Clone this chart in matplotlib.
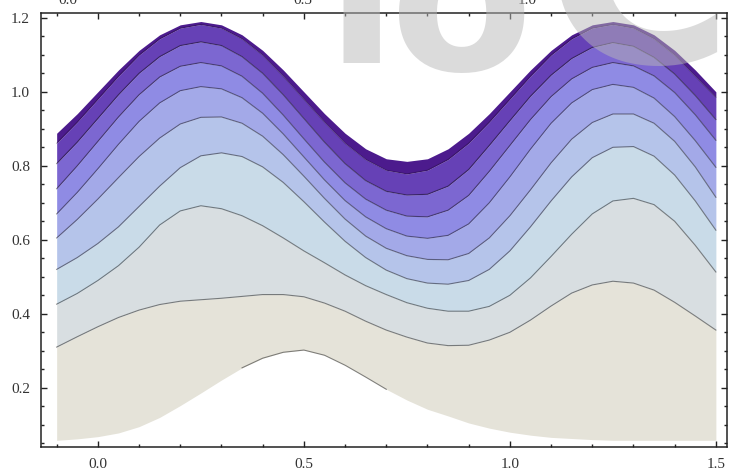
import numpy as np
import matplotlib.pyplot as plt
from matplotlib.ticker import MultipleLocator

# sample positions along x
xs = np.linspace(-0.1, 1.5, 33)

# region boundaries and contour lines, bottom to top
bottom_edge = [0.058, 0.062, 0.068, 0.078, 0.095, 0.120, 0.152, 0.186, 0.221, 0.254, 0.280,
               0.296, 0.302, 0.288, 0.261, 0.229, 0.196, 0.167, 0.142, 0.124, 0.105, 0.091,
               0.080, 0.072, 0.066, 0.063, 0.060, 0.058, 0.058, 0.058, 0.058, 0.058, 0.058]
level1 = [0.310, 0.338, 0.365, 0.390, 0.410, 0.425, 0.434, 0.438, 0.442, 0.447, 0.452,
          0.452, 0.446, 0.429, 0.407, 0.380, 0.356, 0.337, 0.321, 0.314, 0.315, 0.329,
          0.350, 0.383, 0.421, 0.456, 0.478, 0.488, 0.483, 0.464, 0.431, 0.394, 0.356]
level2 = [0.426, 0.455, 0.490, 0.530, 0.580, 0.640, 0.678, 0.692, 0.684, 0.665, 0.638,
          0.605, 0.570, 0.538, 0.505, 0.476, 0.452, 0.430, 0.415, 0.407, 0.407, 0.420,
          0.450, 0.497, 0.555, 0.615, 0.670, 0.705, 0.712, 0.695, 0.650, 0.585, 0.513]
level3 = [0.520, 0.552, 0.590, 0.635, 0.690, 0.745, 0.795, 0.827, 0.835, 0.825, 0.797,
          0.755, 0.703, 0.648, 0.596, 0.552, 0.518, 0.495, 0.483, 0.480, 0.490, 0.520,
          0.570, 0.635, 0.705, 0.770, 0.822, 0.850, 0.852, 0.826, 0.775, 0.705, 0.626]
level4 = [0.605, 0.655, 0.710, 0.768, 0.825, 0.875, 0.913, 0.931, 0.932, 0.915, 0.880,
          0.830, 0.772, 0.712, 0.656, 0.610, 0.577, 0.557, 0.547, 0.546, 0.563, 0.605,
          0.665, 0.735, 0.808, 0.872, 0.917, 0.940, 0.940, 0.915, 0.866, 0.797, 0.715]
level5 = [0.670, 0.728, 0.792, 0.858, 0.920, 0.970, 1.003, 1.014, 1.008, 0.984, 0.942,
          0.886, 0.824, 0.762, 0.706, 0.662, 0.630, 0.610, 0.604, 0.612, 0.643, 0.700,
          0.770, 0.845, 0.915, 0.970, 1.006, 1.020, 1.012, 0.983, 0.933, 0.868, 0.796]
level6 = [0.738, 0.800, 0.866, 0.932, 0.992, 1.040, 1.069, 1.079, 1.070, 1.042, 0.996,
          0.937, 0.873, 0.810, 0.754, 0.710, 0.680, 0.664, 0.662, 0.680, 0.720, 0.785,
          0.855, 0.925, 0.987, 1.035, 1.066, 1.079, 1.070, 1.043, 0.998, 0.938, 0.869]
level7 = [0.806, 0.864, 0.928, 0.992, 1.050, 1.095, 1.125, 1.135, 1.125, 1.095, 1.050,
          0.992, 0.928, 0.864, 0.806, 0.760, 0.731, 0.721, 0.723, 0.745, 0.790, 0.855,
          0.922, 0.988, 1.045, 1.090, 1.120, 1.133, 1.123, 1.093, 1.048, 0.990, 0.925]
dark_edge = [0.861, 0.918, 0.980, 1.042, 1.099, 1.143, 1.172, 1.182, 1.172, 1.143, 1.099,
             1.042, 0.980, 0.918, 0.861, 0.817, 0.788, 0.778, 0.788, 0.817, 0.861, 0.918,
             0.980, 1.042, 1.099, 1.143, 1.172, 1.182, 1.172, 1.143, 1.099, 1.042, 0.985]
top_edge = [0.888, 0.941, 1.000, 1.059, 1.112, 1.154, 1.181, 1.190, 1.181, 1.154, 1.112,
            1.059, 1.000, 0.941, 0.888, 0.846, 0.819, 0.812, 0.819, 0.846, 0.888, 0.941,
            1.000, 1.059, 1.112, 1.154, 1.181, 1.190, 1.181, 1.154, 1.112, 1.059, 1.000]

band_colors = ['#e5e3d9', '#d8dee1', '#c9dbe8', '#b5c4ea', '#a3a9e8',
               '#8f8be4', '#7c67d1', '#6641b6', '#4c1b8d']

x_ticks = [0.0, 0.5, 1.0, 1.5]
y_ticks = [0.2, 0.4, 0.6, 0.8, 1.0, 1.2]

edges = [bottom_edge, level1, level2, level3, level4, level5, level6, level7,
         dark_edge, top_edge]

fig = plt.figure(figsize=(7.31, 4.76), dpi=100)
ax = fig.add_axes([41 / 731, 1 - 447 / 476, 686 / 731, 434 / 476])

for lo, hi, c in zip(edges[:-1], edges[1:], band_colors):
    ax.fill_between(xs, lo, hi, color=c, lw=0, zorder=1)

for i, line in enumerate(edges[1:-1]):
    ax.plot(xs, line, color='black', alpha=0.45 if i < 7 else 0.25, lw=0.8, zorder=2)

# contour line hugging the lower bump
bump = (xs > 0.32) & (xs < 0.73)
ax.plot(xs[bump], np.array(bottom_edge)[bump], color='black', alpha=0.45, lw=0.8, zorder=2)

ax.set_xlim(-0.138, 1.527)
ax.set_ylim(0.040, 1.213)
ax.set_xticks(x_ticks)
ax.set_yticks(y_ticks)
ax.set_xticklabels([f'{v:.1f}' for v in x_ticks])
ax.set_yticklabels([f'{v:.1f}' for v in y_ticks])
ax.xaxis.set_minor_locator(MultipleLocator(0.1))
ax.yaxis.set_minor_locator(MultipleLocator(0.05))
ax.tick_params(which='both', direction='in', top=True, right=True, width=1.0,
               colors='#222222', labelcolor='#333333')
ax.tick_params(which='major', length=4.5, labelsize=11, pad=8)
ax.tick_params(which='minor', length=2.5)
for lab in ax.get_xticklabels() + ax.get_yticklabels():
    lab.set_family('Liberation Serif')
for sp in ax.spines.values():
    sp.set_linewidth(1.1)
    sp.set_color('#222222')

# labels of the panel above, cut by the top edge
for px, s in zip([68, 303, 527], ['0.0', '0.5', '1.0']):
    fig.text(px / 731, 1 - 4 / 476, s, ha='center', va='baseline', fontsize=11,
             family='Liberation Serif', color='#333333')

# faint watermark across the top
for px, py, s, size in zip([361, 462, 639], [63, 70, 62], ['l', 'o', 'C'], [150, 150, 185]):
    fig.text(px / 731, 1 - py / 476, s, ha='center', va='baseline', fontsize=size,
             fontweight='bold', family='DejaVu Sans', color='#b8b8b8', alpha=0.5,
             zorder=10)

fig.savefig('out.png', dpi=100)
